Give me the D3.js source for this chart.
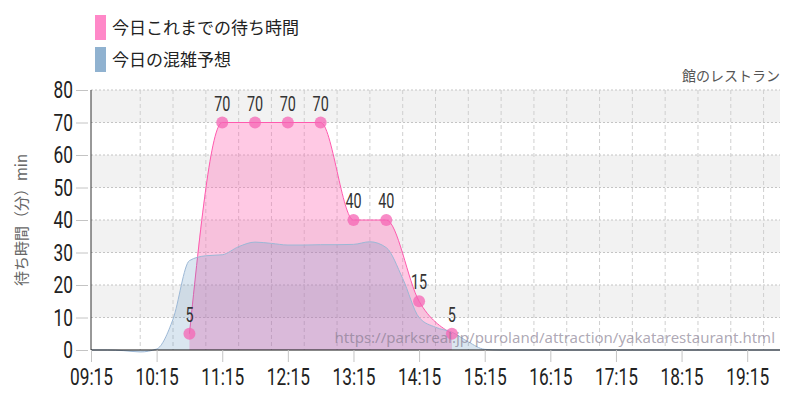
<!DOCTYPE html>
<html>
<head>
<meta charset="utf-8">
<script src="https://cdn.jsdelivr.net/npm/d3@7"></script>
<style>
  body { margin: 0; background: #fff; }
  svg { display: block; }
  .num { font-family: Roboto, "DejaVu Sans", sans-serif; }
  .jp { font-family: "Noto Sans CJK JP", "Noto Sans", sans-serif; }
</style>
</head>
<body>
<svg id="chart" width="800" height="400"></svg>
<script>
// 今日これまでの待ち時間 (actual wait, 30 min steps)
var actualTimes = ["10:45", "11:15", "11:45", "12:15", "12:45", "13:15", "13:45", "14:15", "14:45"];
var actualWait  = [5, 70, 70, 70, 70, 40, 40, 15, 5];

// 今日の混雑予想 (forecast, 15 min steps from 09:15)
var forecastTimes = ["09:15","09:30","09:45","10:00","10:15","10:30","10:45","11:00","11:15","11:30",
  "11:45","12:00","12:15","12:30","12:45","13:00","13:15","13:30","13:45","14:00","14:15","14:30",
  "14:45","15:00","15:15","15:30","15:45","16:00","16:30","17:00","17:30","18:00","18:30","19:00","19:30","19:45"];
var forecastWait  = [0, 0, -0.2, -0.6, 0.3, 9.5, 27.5, 29, 29.3, 31.8,
  33.2, 32.8, 32.3, 32.3, 32.4, 32.4, 32.5, 33.3, 31.5, 22, 10, 7,
  5.5, 2.5, 0.2, 0, 0, 0, 0, 0, 0, 0, 0, 0, 0, 0];

var xTickLabels = ["09:15","10:15","11:15","12:15","13:15","14:15","15:15","16:15","17:15","18:15","19:15"];
var yTicks = [0, 10, 20, 30, 40, 50, 60, 70, 80];
var legendNames = ["今日これまでの待ち時間", "今日の混雑予想"];
var legendColors = ["#ff88c8", "#90b2d0"];

var parse = d3.timeParse("%H:%M");
var fmt = d3.timeFormat("%H:%M");

var svg = d3.select("#chart");
var mLeft = 91, mRight = 780, mTop = 90, mBottom = 350;
var squeeze = 0.72; // narrow digits like the original condensed font

var x = d3.scaleTime()
    .domain([parse("09:15"), parse("19:45")])
    .range([mLeft, mRight]);
var y = d3.scaleLinear()
    .domain([0, 80])
    .range([mBottom, mTop]);

// alternating bands
var bands = [70, 50, 30, 10];
svg.selectAll("rect.band").data(bands).enter().append("rect")
  .attr("class", "band")
  .attr("x", mLeft).attr("width", mRight - mLeft)
  .attr("y", function(d) { return y(d + 10); })
  .attr("height", function(d) { return y(d) - y(d + 10); })
  .attr("fill", "#f2f2f2");

// horizontal dotted grid
svg.selectAll("line.hgrid").data(yTicks.slice(1)).enter().append("line")
  .attr("class", "hgrid")
  .attr("x1", mLeft).attr("x2", mRight)
  .attr("y1", function(d) { return y(d); }).attr("y2", function(d) { return y(d); })
  .attr("stroke", "#c4c4c4").attr("stroke-dasharray", "2,2");

// vertical dashed grid every 30 min
var halfHours = d3.timeMinute.every(30).range(parse("09:45"), parse("19:46"));
svg.selectAll("line.vgrid").data(halfHours).enter().append("line")
  .attr("class", "vgrid")
  .attr("x1", function(d) { return x(d); }).attr("x2", function(d) { return x(d); })
  .attr("y1", mTop).attr("y2", mBottom)
  .attr("stroke", "#cfcfcf").attr("stroke-dasharray", "4,3");

// actual wait area (pink)
var actual = actualTimes.map(function(t, i) { return { t: parse(t), v: actualWait[i] }; });
var area = d3.area().curve(d3.curveMonotoneX)
  .x(function(d) { return x(d.t); })
  .y0(y(0))
  .y1(function(d) { return y(d.v); });
var line = d3.line().curve(d3.curveMonotoneX)
  .x(function(d) { return x(d.t); })
  .y(function(d) { return y(d.v); });

svg.append("path").datum(actual)
  .attr("d", area)
  .attr("fill", "rgba(255,105,180,0.36)");
svg.append("path").datum(actual)
  .attr("d", line)
  .attr("fill", "none").attr("stroke", "#ff5aae").attr("stroke-width", 1);

// forecast area (blue)
var forecast = forecastTimes.map(function(t, i) { return { t: parse(t), v: forecastWait[i] }; });
svg.append("path").datum(forecast)
  .attr("d", area)
  .attr("fill", "rgba(70,130,180,0.2)");
svg.append("path").datum(forecast)
  .attr("d", line)
  .attr("fill", "none").attr("stroke", "#9cb8d6").attr("stroke-width", 1);

// y axis
var yAxis = svg.append("g")
  .attr("transform", "translate(" + mLeft + ",0)")
  .call(d3.axisLeft(y).tickValues(yTicks).tickSize(15).tickPadding(3));
yAxis.select(".domain").attr("stroke", "#333").attr("d", "M0," + mTop + "V" + mBottom);
yAxis.selectAll(".tick line").attr("stroke", "#c4c4c4").attr("x2", -3).attr("x1", -15);
yAxis.selectAll(".tick text").attr("class", "num").attr("font-size", 24).attr("fill", "#222")
  .attr("x", -18 / squeeze)
  .attr("transform", "scale(" + squeeze + ",1)");

// x axis
var xAxis = svg.append("g")
  .attr("transform", "translate(0," + mBottom + ")")
  .call(d3.axisBottom(x).tickValues(xTickLabels.map(parse)).tickFormat(fmt).tickSize(12).tickPadding(6));
xAxis.select(".domain").attr("stroke", "#111").attr("d", "M" + mLeft + ",0H" + mRight);
xAxis.selectAll(".tick line").attr("stroke", "#c4c4c4");
xAxis.selectAll(".tick text").attr("class", "num").attr("font-size", 24).attr("fill", "#222")
  .attr("transform", "scale(" + squeeze + ",1)");

// dots and labels
svg.selectAll("circle.pt").data(actual).enter().append("circle")
  .attr("class", "pt")
  .attr("cx", function(d) { return x(d.t); })
  .attr("cy", function(d) { return y(d.v); })
  .attr("r", 6)
  .attr("fill", "rgba(245,100,180,0.75)");
svg.selectAll("g.lbl").data(actual).enter().append("g")
  .attr("class", "lbl")
  .attr("transform", function(d) { return "translate(" + x(d.t) + "," + (y(d.v) - 12) + ")"; })
  .append("text")
  .attr("class", "num")
  .attr("text-anchor", "middle")
  .attr("transform", "scale(" + squeeze + ",1)")
  .attr("font-size", 20)
  .attr("fill", "#333")
  .text(function(d) { return d.v; });

// watermark
svg.append("text")
  .attr("x", 775).attr("y", 343)
  .attr("text-anchor", "end")
  .attr("font-family", "'Noto Sans', sans-serif")
  .attr("font-size", 15)
  .attr("fill", "rgba(130,120,140,0.65)")
  .text("https://parksreal.jp/puroland/attraction/yakatarestaurant.html");

// subtitle
svg.append("text").attr("class", "jp")
  .attr("x", 780).attr("y", 81)
  .attr("text-anchor", "end")
  .attr("font-size", 14)
  .attr("fill", "#555")
  .text("館のレストラン");

// y label
svg.append("text").attr("class", "jp")
  .attr("transform", "translate(27,220) rotate(-90)")
  .attr("text-anchor", "middle")
  .attr("font-size", 15)
  .attr("fill", "#666")
  .text("待ち時間（分）min");

// legend
var lg = svg.selectAll("g.legend").data(legendNames).enter().append("g")
  .attr("class", "legend")
  .attr("transform", function(d, i) { return "translate(95," + (15 + i * 32) + ")"; });
lg.append("rect").attr("width", 11).attr("height", 25)
  .attr("fill", function(d, i) { return legendColors[i]; });
lg.append("text").attr("class", "jp")
  .attr("x", 17).attr("y", 19)
  .attr("font-size", 17)
  .attr("fill", "#222")
  .text(function(d) { return d; });
</script>
</body>
</html>
